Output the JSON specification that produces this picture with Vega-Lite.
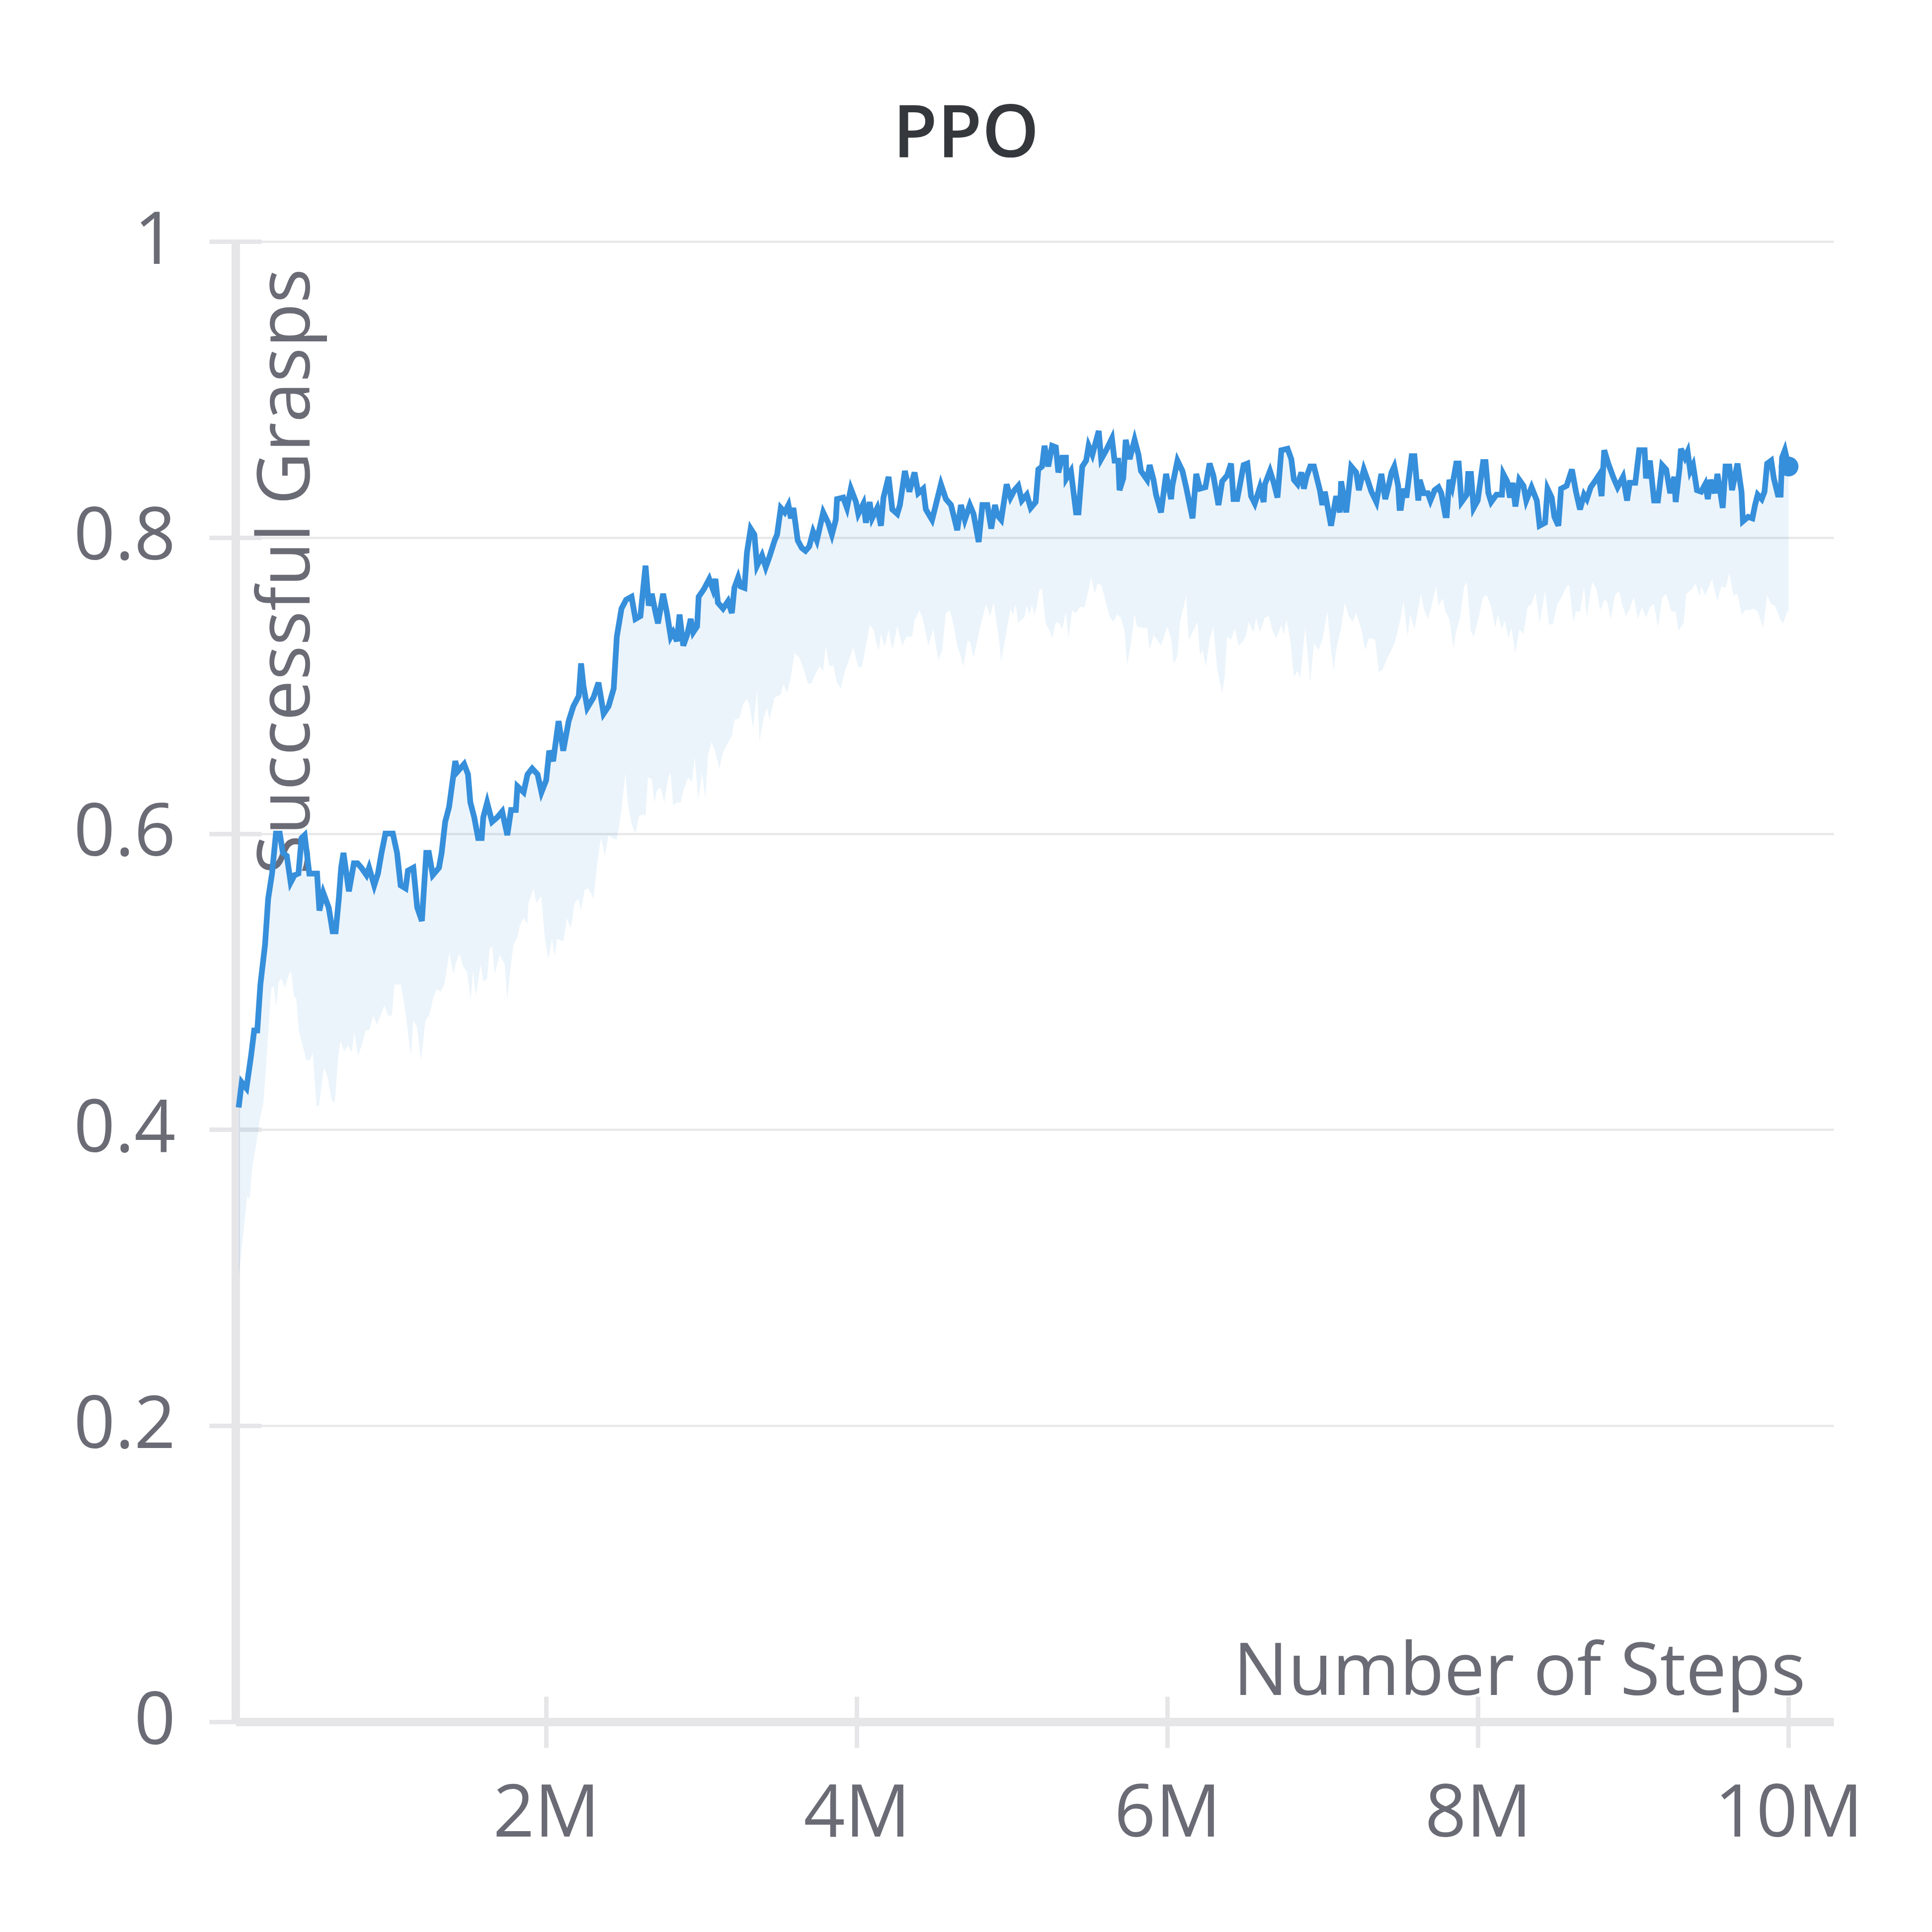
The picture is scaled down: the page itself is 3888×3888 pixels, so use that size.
{
  "$schema": "https://vega.github.io/schema/vega-lite/v6.json",
  "autosize": "none",
  "width": 3216,
  "height": 2979,
  "padding": {"left": 474, "top": 486, "right": 198, "bottom": 423},
  "background": "white",
  "config": {"view": {"stroke": null}, "font": "Open Sans"},
  "title": {
    "text": "PPO",
    "anchor": "middle",
    "frame": "group",
    "dx": -138,
    "offset": -49,
    "baseline": "alphabetic",
    "font": "Open Sans",
    "fontSize": 146,
    "fontWeight": 600,
    "color": "#34373b"
  },
  "data": {"values": [
    {"steps":0.02,"success":0.415,"series":"mean"},{"steps":0.04,"success":0.432,"series":"mean"},{"steps":0.07,"success":0.428,"series":"mean"},{"steps":0.1,"success":0.45,"series":"mean"},{"steps":0.12,"success":0.467,"series":"mean"},{"steps":0.14,"success":0.467,"series":"mean"},{"steps":0.16,"success":0.498,"series":"mean"},{"steps":0.19,"success":0.525,"series":"mean"},{"steps":0.21,"success":0.556,"series":"mean"},{"steps":0.235,"success":0.573,"series":"mean"},
    {"steps":0.26,"success":0.6,"series":"mean"},{"steps":0.285,"success":0.6,"series":"mean"},{"steps":0.305,"success":0.587,"series":"mean"},{"steps":0.33,"success":0.585,"series":"mean"},{"steps":0.355,"success":0.567,"series":"mean"},{"steps":0.38,"success":0.572,"series":"mean"},{"steps":0.405,"success":0.573,"series":"mean"},{"steps":0.425,"success":0.597,"series":"mean"},{"steps":0.445,"success":0.599,"series":"mean"},{"steps":0.475,"success":0.573,"series":"mean"},
    {"steps":0.525,"success":0.573,"series":"mean"},{"steps":0.54,"success":0.548,"series":"mean"},{"steps":0.565,"success":0.56,"series":"mean"},{"steps":0.6,"success":0.55,"series":"mean"},{"steps":0.625,"success":0.534,"series":"mean"},{"steps":0.645,"success":0.534,"series":"mean"},{"steps":0.665,"success":0.556,"series":"mean"},{"steps":0.68,"success":0.577,"series":"mean"},{"steps":0.695,"success":0.587,"series":"mean"},{"steps":0.73,"success":0.561,"series":"mean"},
    {"steps":0.762,"success":0.58,"series":"mean"},{"steps":0.785,"success":0.58,"series":"mean"},{"steps":0.81,"success":0.577,"series":"mean"},{"steps":0.843,"success":0.572,"series":"mean"},{"steps":0.86,"success":0.577,"series":"mean"},{"steps":0.893,"success":0.565,"series":"mean"},{"steps":0.917,"success":0.573,"series":"mean"},{"steps":0.94,"success":0.587,"series":"mean"},{"steps":0.965,"success":0.6,"series":"mean"},{"steps":1.013,"success":0.6,"series":"mean"},
    {"steps":1.04,"success":0.587,"series":"mean"},{"steps":1.063,"success":0.565,"series":"mean"},{"steps":1.095,"success":0.563,"series":"mean"},{"steps":1.11,"success":0.575,"series":"mean"},{"steps":1.145,"success":0.577,"series":"mean"},{"steps":1.17,"success":0.55,"series":"mean"},{"steps":1.2,"success":0.541,"series":"mean"},{"steps":1.228,"success":0.587,"series":"mean"},{"steps":1.245,"success":0.587,"series":"mean"},{"steps":1.27,"success":0.572,"series":"mean"},
    {"steps":1.31,"success":0.577,"series":"mean"},{"steps":1.327,"success":0.587,"series":"mean"},{"steps":1.35,"success":0.608,"series":"mean"},{"steps":1.375,"success":0.618,"series":"mean"},{"steps":1.415,"success":0.649,"series":"mean"},{"steps":1.43,"success":0.642,"series":"mean"},{"steps":1.472,"success":0.647,"series":"mean"},{"steps":1.497,"success":0.64,"series":"mean"},{"steps":1.512,"success":0.621,"series":"mean"},{"steps":1.537,"success":0.611,"series":"mean"},
    {"steps":1.562,"success":0.597,"series":"mean"},{"steps":1.585,"success":0.597,"series":"mean"},{"steps":1.595,"success":0.611,"series":"mean"},{"steps":1.62,"success":0.621,"series":"mean"},{"steps":1.652,"success":0.608,"series":"mean"},{"steps":1.685,"success":0.611,"series":"mean"},{"steps":1.717,"success":0.615,"series":"mean"},{"steps":1.75,"success":0.599,"series":"mean"},{"steps":1.774,"success":0.616,"series":"mean"},{"steps":1.805,"success":0.616,"series":"mean"},
    {"steps":1.815,"success":0.632,"series":"mean"},{"steps":1.855,"success":0.628,"series":"mean"},{"steps":1.88,"success":0.64,"series":"mean"},{"steps":1.91,"success":0.644,"series":"mean"},{"steps":1.945,"success":0.64,"series":"mean"},{"steps":1.97,"success":0.628,"series":"mean"},{"steps":2.0,"success":0.636,"series":"mean"},{"steps":2.02,"success":0.656,"series":"mean"},{"steps":2.045,"success":0.649,"series":"mean"},{"steps":2.08,"success":0.676,"series":"mean"},
    {"steps":2.11,"success":0.656,"series":"mean"},{"steps":2.145,"success":0.676,"series":"mean"},{"steps":2.175,"success":0.686,"series":"mean"},{"steps":2.21,"success":0.693,"series":"mean"},{"steps":2.225,"success":0.715,"series":"mean"},{"steps":2.24,"success":0.7,"series":"mean"},{"steps":2.265,"success":0.685,"series":"mean"},{"steps":2.305,"success":0.692,"series":"mean"},{"steps":2.337,"success":0.702,"series":"mean"},{"steps":2.37,"success":0.681,"series":"mean"},
    {"steps":2.402,"success":0.686,"series":"mean"},{"steps":2.435,"success":0.698,"series":"mean"},{"steps":2.455,"success":0.733,"series":"mean"},{"steps":2.485,"success":0.752,"series":"mean"},{"steps":2.515,"success":0.758,"series":"mean"},{"steps":2.55,"success":0.76,"series":"mean"},{"steps":2.575,"success":0.745,"series":"mean"},{"steps":2.607,"success":0.747,"series":"mean"},{"steps":2.64,"success":0.781,"series":"mean"},{"steps":2.661,"success":0.754,"series":"mean"},
    {"steps":2.68,"success":0.762,"series":"mean"},{"steps":2.705,"success":0.749,"series":"mean"},{"steps":2.72,"success":0.742,"series":"mean"},{"steps":2.753,"success":0.762,"series":"mean"},{"steps":2.778,"success":0.749,"series":"mean"},{"steps":2.802,"success":0.733,"series":"mean"},{"steps":2.818,"success":0.736,"series":"mean"},{"steps":2.842,"success":0.73,"series":"mean"},{"steps":2.859,"success":0.748,"series":"mean"},{"steps":2.883,"success":0.727,"series":"mean"},
    {"steps":2.907,"success":0.734,"series":"mean"},{"steps":2.931,"success":0.745,"series":"mean"},{"steps":2.947,"success":0.736,"series":"mean"},{"steps":2.972,"success":0.74,"series":"mean"},{"steps":2.982,"success":0.76,"series":"mean"},{"steps":3.015,"success":0.765,"series":"mean"},{"steps":3.05,"success":0.772,"series":"mean"},{"steps":3.074,"success":0.765,"series":"mean"},{"steps":3.09,"success":0.772,"series":"mean"},{"steps":3.106,"success":0.756,"series":"mean"},
    {"steps":3.139,"success":0.752,"series":"mean"},{"steps":3.171,"success":0.757,"series":"mean"},{"steps":3.196,"success":0.749,"series":"mean"},{"steps":3.212,"success":0.766,"series":"mean"},{"steps":3.236,"success":0.773,"series":"mean"},{"steps":3.252,"success":0.767,"series":"mean"},{"steps":3.277,"success":0.766,"series":"mean"},{"steps":3.293,"success":0.79,"series":"mean"},{"steps":3.317,"success":0.806,"series":"mean"},{"steps":3.341,"success":0.802,"series":"mean"},
    {"steps":3.358,"success":0.781,"series":"mean"},{"steps":3.39,"success":0.788,"series":"mean"},{"steps":3.414,"success":0.78,"series":"mean"},{"steps":3.438,"success":0.787,"series":"mean"},{"steps":3.471,"success":0.798,"series":"mean"},{"steps":3.487,"success":0.802,"series":"mean"},{"steps":3.511,"success":0.82,"series":"mean"},{"steps":3.536,"success":0.817,"series":"mean"},{"steps":3.56,"success":0.822,"series":"mean"},{"steps":3.576,"success":0.813,"series":"mean"},
    {"steps":3.592,"success":0.82,"series":"mean"},{"steps":3.62,"success":0.798,"series":"mean"},{"steps":3.646,"success":0.793,"series":"mean"},{"steps":3.67,"success":0.791,"series":"mean"},{"steps":3.694,"success":0.794,"series":"mean"},{"steps":3.719,"success":0.804,"series":"mean"},{"steps":3.743,"success":0.798,"series":"mean"},{"steps":3.784,"success":0.817,"series":"mean"},{"steps":3.816,"success":0.81,"series":"mean"},{"steps":3.84,"success":0.802,"series":"mean"},
    {"steps":3.865,"success":0.812,"series":"mean"},{"steps":3.873,"success":0.826,"series":"mean"},{"steps":3.913,"success":0.827,"series":"mean"},{"steps":3.937,"success":0.82,"series":"mean"},{"steps":3.962,"success":0.833,"series":"mean"},{"steps":3.995,"success":0.824,"series":"mean"},{"steps":4.01,"success":0.816,"series":"mean"},{"steps":4.043,"success":0.823,"series":"mean"},{"steps":4.059,"success":0.81,"series":"mean"},{"steps":4.083,"success":0.824,"series":"mean"},
    {"steps":4.099,"success":0.813,"series":"mean"},{"steps":4.132,"success":0.82,"series":"mean"},{"steps":4.156,"success":0.808,"series":"mean"},{"steps":4.172,"success":0.827,"series":"mean"},{"steps":4.205,"success":0.841,"series":"mean"},{"steps":4.229,"success":0.819,"series":"mean"},{"steps":4.261,"success":0.816,"series":"mean"},{"steps":4.278,"success":0.822,"series":"mean"},{"steps":4.31,"success":0.845,"series":"mean"},{"steps":4.339,"success":0.831,"series":"mean"},
    {"steps":4.372,"success":0.844,"series":"mean"},{"steps":4.396,"success":0.83,"series":"mean"},{"steps":4.428,"success":0.833,"series":"mean"},{"steps":4.445,"success":0.819,"series":"mean"},{"steps":4.485,"success":0.812,"series":"mean"},{"steps":4.509,"success":0.822,"series":"mean"},{"steps":4.542,"success":0.836,"series":"mean"},{"steps":4.574,"success":0.826,"series":"mean"},{"steps":4.607,"success":0.822,"series":"mean"},{"steps":4.647,"success":0.805,"series":"mean"},
    {"steps":4.671,"success":0.822,"series":"mean"},{"steps":4.696,"success":0.812,"series":"mean"},{"steps":4.728,"success":0.822,"series":"mean"},{"steps":4.752,"success":0.816,"series":"mean"},{"steps":4.785,"success":0.797,"series":"mean"},{"steps":4.809,"success":0.822,"series":"mean"},{"steps":4.841,"success":0.822,"series":"mean"},{"steps":4.866,"success":0.806,"series":"mean"},{"steps":4.89,"success":0.822,"series":"mean"},{"steps":4.906,"success":0.815,"series":"mean"},
    {"steps":4.93,"success":0.812,"series":"mean"},{"steps":4.965,"success":0.836,"series":"mean"},{"steps":4.99,"success":0.827,"series":"mean"},{"steps":5.015,"success":0.832,"series":"mean"},{"steps":5.04,"success":0.835,"series":"mean"},{"steps":5.063,"success":0.825,"series":"mean"},{"steps":5.095,"success":0.829,"series":"mean"},{"steps":5.12,"success":0.82,"series":"mean"},{"steps":5.152,"success":0.824,"series":"mean"},{"steps":5.169,"success":0.846,"series":"mean"},
    {"steps":5.193,"success":0.848,"series":"mean"},{"steps":5.209,"success":0.862,"series":"mean"},{"steps":5.233,"success":0.848,"series":"mean"},{"steps":5.258,"success":0.862,"series":"mean"},{"steps":5.282,"success":0.861,"series":"mean"},{"steps":5.298,"success":0.844,"series":"mean"},{"steps":5.323,"success":0.854,"series":"mean"},{"steps":5.347,"success":0.854,"series":"mean"},{"steps":5.35,"success":0.84,"series":"mean"},{"steps":5.379,"success":0.845,"series":"mean"},
    {"steps":5.412,"success":0.817,"series":"mean"},{"steps":5.428,"success":0.817,"series":"mean"},{"steps":5.452,"success":0.848,"series":"mean"},{"steps":5.477,"success":0.852,"series":"mean"},{"steps":5.493,"success":0.862,"series":"mean"},{"steps":5.517,"success":0.856,"series":"mean"},{"steps":5.558,"success":0.872,"series":"mean"},{"steps":5.574,"success":0.853,"series":"mean"},{"steps":5.606,"success":0.859,"series":"mean"},{"steps":5.643,"success":0.867,"series":"mean"},
    {"steps":5.66,"success":0.852,"series":"mean"},{"steps":5.684,"success":0.852,"series":"mean"},{"steps":5.692,"success":0.832,"series":"mean"},{"steps":5.716,"success":0.84,"series":"mean"},{"steps":5.732,"success":0.866,"series":"mean"},{"steps":5.757,"success":0.853,"series":"mean"},{"steps":5.789,"success":0.866,"series":"mean"},{"steps":5.814,"success":0.856,"series":"mean"},{"steps":5.83,"success":0.845,"series":"mean"},{"steps":5.87,"success":0.839,"series":"mean"},
    {"steps":5.886,"success":0.849,"series":"mean"},{"steps":5.911,"success":0.839,"series":"mean"},{"steps":5.927,"success":0.829,"series":"mean"},{"steps":5.959,"success":0.817,"series":"mean"},{"steps":5.992,"success":0.843,"series":"mean"},{"steps":6.024,"success":0.826,"series":"mean"},{"steps":6.032,"success":0.835,"series":"mean"},{"steps":6.065,"success":0.852,"series":"mean"},{"steps":6.097,"success":0.845,"series":"mean"},{"steps":6.121,"success":0.834,"series":"mean"},
    {"steps":6.162,"success":0.813,"series":"mean"},{"steps":6.186,"success":0.843,"series":"mean"},{"steps":6.21,"success":0.833,"series":"mean"},{"steps":6.245,"success":0.834,"series":"mean"},{"steps":6.272,"success":0.85,"series":"mean"},{"steps":6.296,"success":0.842,"series":"mean"},{"steps":6.329,"success":0.822,"series":"mean"},{"steps":6.353,"success":0.838,"series":"mean"},{"steps":6.385,"success":0.842,"series":"mean"},{"steps":6.41,"success":0.85,"series":"mean"},
    {"steps":6.426,"success":0.826,"series":"mean"},{"steps":6.45,"success":0.826,"series":"mean"},{"steps":6.491,"success":0.849,"series":"mean"},{"steps":6.515,"success":0.85,"series":"mean"},{"steps":6.539,"success":0.828,"series":"mean"},{"steps":6.563,"success":0.823,"series":"mean"},{"steps":6.596,"success":0.834,"series":"mean"},{"steps":6.62,"success":0.824,"series":"mean"},{"steps":6.628,"success":0.836,"series":"mean"},{"steps":6.661,"success":0.845,"series":"mean"},
    {"steps":6.685,"success":0.837,"series":"mean"},{"steps":6.709,"success":0.827,"series":"mean"},{"steps":6.734,"success":0.859,"series":"mean"},{"steps":6.774,"success":0.86,"series":"mean"},{"steps":6.798,"success":0.853,"series":"mean"},{"steps":6.815,"success":0.839,"series":"mean"},{"steps":6.839,"success":0.836,"series":"mean"},{"steps":6.863,"success":0.844,"series":"mean"},{"steps":6.879,"success":0.833,"series":"mean"},{"steps":6.896,"success":0.841,"series":"mean"},
    {"steps":6.92,"success":0.848,"series":"mean"},{"steps":6.944,"success":0.848,"series":"mean"},{"steps":6.982,"success":0.832,"series":"mean"},{"steps":6.998,"success":0.822,"series":"mean"},{"steps":7.014,"success":0.831,"series":"mean"},{"steps":7.054,"success":0.808,"series":"mean"},{"steps":7.087,"success":0.828,"series":"mean"},{"steps":7.111,"success":0.817,"series":"mean"},{"steps":7.119,"success":0.838,"series":"mean"},{"steps":7.152,"success":0.817,"series":"mean"},
    {"steps":7.184,"success":0.848,"series":"mean"},{"steps":7.216,"success":0.844,"series":"mean"},{"steps":7.233,"success":0.832,"series":"mean"},{"steps":7.265,"success":0.846,"series":"mean"},{"steps":7.289,"success":0.839,"series":"mean"},{"steps":7.314,"success":0.831,"series":"mean"},{"steps":7.346,"success":0.824,"series":"mean"},{"steps":7.378,"success":0.843,"series":"mean"},{"steps":7.403,"success":0.826,"series":"mean"},{"steps":7.427,"success":0.836,"series":"mean"},
    {"steps":7.443,"success":0.844,"series":"mean"},{"steps":7.461,"success":0.848,"series":"mean"},{"steps":7.486,"success":0.835,"series":"mean"},{"steps":7.495,"success":0.82,"series":"mean"},{"steps":7.504,"success":0.82,"series":"mean"},{"steps":7.521,"success":0.833,"series":"mean"},{"steps":7.539,"success":0.827,"series":"mean"},{"steps":7.573,"success":0.855,"series":"mean"},{"steps":7.591,"success":0.855,"series":"mean"},{"steps":7.616,"success":0.825,"series":"mean"},
    {"steps":7.625,"success":0.839,"series":"mean"},{"steps":7.651,"success":0.83,"series":"mean"},{"steps":7.677,"success":0.83,"series":"mean"},{"steps":7.694,"success":0.825,"series":"mean"},{"steps":7.721,"success":0.832,"series":"mean"},{"steps":7.746,"success":0.834,"series":"mean"},{"steps":7.764,"success":0.83,"series":"mean"},{"steps":7.79,"success":0.815,"series":"mean"},{"steps":7.799,"success":0.815,"series":"mean"},{"steps":7.816,"success":0.839,"series":"mean"},
    {"steps":7.833,"success":0.834,"series":"mean"},{"steps":7.86,"success":0.85,"series":"mean"},{"steps":7.876,"success":0.85,"series":"mean"},{"steps":7.894,"success":0.824,"series":"mean"},{"steps":7.928,"success":0.829,"series":"mean"},{"steps":7.937,"success":0.843,"series":"mean"},{"steps":7.955,"success":0.843,"series":"mean"},{"steps":7.972,"success":0.82,"series":"mean"},{"steps":7.998,"success":0.825,"series":"mean"},{"steps":8.033,"success":0.851,"series":"mean"},
    {"steps":8.049,"success":0.851,"series":"mean"},{"steps":8.067,"success":0.83,"series":"mean"},{"steps":8.085,"success":0.824,"series":"mean"},{"steps":8.119,"success":0.829,"series":"mean"},{"steps":8.154,"success":0.829,"series":"mean"},{"steps":8.163,"success":0.843,"series":"mean"},{"steps":8.188,"success":0.838,"series":"mean"},{"steps":8.206,"success":0.827,"series":"mean"},{"steps":8.223,"success":0.837,"series":"mean"},{"steps":8.241,"success":0.821,"series":"mean"},
    {"steps":8.266,"success":0.839,"series":"mean"},{"steps":8.293,"success":0.835,"series":"mean"},{"steps":8.311,"success":0.825,"series":"mean"},{"steps":8.345,"success":0.834,"series":"mean"},{"steps":8.379,"success":0.825,"series":"mean"},{"steps":8.397,"success":0.808,"series":"mean"},{"steps":8.432,"success":0.81,"series":"mean"},{"steps":8.448,"success":0.833,"series":"mean"},{"steps":8.475,"success":0.827,"series":"mean"},{"steps":8.492,"success":0.814,"series":"mean"},
    {"steps":8.518,"success":0.808,"series":"mean"},{"steps":8.535,"success":0.833,"series":"mean"},{"steps":8.571,"success":0.835,"series":"mean"},{"steps":8.605,"success":0.846,"series":"mean"},{"steps":8.631,"success":0.831,"series":"mean"},{"steps":8.657,"success":0.819,"series":"mean"},{"steps":8.683,"success":0.829,"series":"mean"},{"steps":8.701,"success":0.826,"series":"mean"},{"steps":8.726,"success":0.834,"series":"mean"},{"steps":8.753,"success":0.838,"series":"mean"},
    {"steps":8.778,"success":0.842,"series":"mean"},{"steps":8.796,"success":0.828,"series":"mean"},{"steps":8.813,"success":0.859,"series":"mean"},{"steps":8.839,"success":0.85,"series":"mean"},{"steps":8.874,"success":0.84,"series":"mean"},{"steps":8.899,"success":0.834,"series":"mean"},{"steps":8.934,"success":0.841,"series":"mean"},{"steps":8.96,"success":0.825,"series":"mean"},{"steps":8.977,"success":0.837,"series":"mean"},{"steps":9.013,"success":0.837,"series":"mean"},
    {"steps":9.038,"success":0.859,"series":"mean"},{"steps":9.073,"success":0.859,"series":"mean"},{"steps":9.082,"success":0.84,"series":"mean"},{"steps":9.107,"success":0.852,"series":"mean"},{"steps":9.134,"success":0.825,"series":"mean"},{"steps":9.159,"success":0.825,"series":"mean"},{"steps":9.186,"success":0.849,"series":"mean"},{"steps":9.212,"success":0.846,"series":"mean"},{"steps":9.238,"success":0.83,"series":"mean"},{"steps":9.264,"success":0.841,"series":"mean"},
    {"steps":9.273,"success":0.824,"series":"mean"},{"steps":9.298,"success":0.847,"series":"mean"},{"steps":9.307,"success":0.86,"series":"mean"},{"steps":9.333,"success":0.854,"series":"mean"},{"steps":9.35,"success":0.858,"series":"mean"},{"steps":9.367,"success":0.845,"series":"mean"},{"steps":9.385,"success":0.849,"series":"mean"},{"steps":9.41,"success":0.832,"series":"mean"},{"steps":9.437,"success":0.831,"series":"mean"},{"steps":9.463,"success":0.836,"series":"mean"},
    {"steps":9.48,"success":0.826,"series":"mean"},{"steps":9.497,"success":0.839,"series":"mean"},{"steps":9.524,"success":0.83,"series":"mean"},{"steps":9.542,"success":0.843,"series":"mean"},{"steps":9.576,"success":0.82,"series":"mean"},{"steps":9.594,"success":0.848,"series":"mean"},{"steps":9.619,"success":0.848,"series":"mean"},{"steps":9.636,"success":0.832,"series":"mean"},{"steps":9.671,"success":0.85,"series":"mean"},{"steps":9.697,"success":0.831,"series":"mean"},
    {"steps":9.706,"success":0.811,"series":"mean"},{"steps":9.74,"success":0.814,"series":"mean"},{"steps":9.767,"success":0.813,"series":"mean"},{"steps":9.784,"success":0.822,"series":"mean"},{"steps":9.801,"success":0.829,"series":"mean"},{"steps":9.827,"success":0.826,"series":"mean"},{"steps":9.845,"success":0.831,"series":"mean"},{"steps":9.862,"success":0.85,"series":"mean"},{"steps":9.888,"success":0.852,"series":"mean"},{"steps":9.905,"success":0.84,"series":"mean"},
    {"steps":9.931,"success":0.829,"series":"mean"},{"steps":9.949,"success":0.829,"series":"mean"},{"steps":9.958,"success":0.854,"series":"mean"},{"steps":9.976,"success":0.859,"series":"mean"},{"steps":10.0,"success":0.848,"series":"mean"},
    {"steps":10.0,"success":0.75,"series":"lower"},{"steps":9.991,"success":0.75,"series":"lower"},{"steps":9.965,"success":0.742,"series":"lower"},{"steps":9.944,"success":0.745,"series":"lower"},{"steps":9.913,"success":0.754,"series":"lower"},{"steps":9.888,"success":0.755,"series":"lower"},{"steps":9.862,"success":0.761,"series":"lower"},{"steps":9.836,"success":0.739,"series":"lower"},{"steps":9.801,"success":0.75,"series":"lower"},{"steps":9.776,"success":0.752,"series":"lower"},
    {"steps":9.749,"success":0.751,"series":"lower"},{"steps":9.723,"success":0.751,"series":"lower"},{"steps":9.697,"success":0.748,"series":"lower"},{"steps":9.671,"success":0.762,"series":"lower"},{"steps":9.645,"success":0.761,"series":"lower"},{"steps":9.619,"success":0.776,"series":"lower"},{"steps":9.594,"success":0.766,"series":"lower"},{"steps":9.567,"success":0.767,"series":"lower"},{"steps":9.541,"success":0.757,"series":"lower"},{"steps":9.507,"success":0.772,"series":"lower"},
    {"steps":9.48,"success":0.765,"series":"lower"},{"steps":9.463,"success":0.761,"series":"lower"},{"steps":9.437,"success":0.767,"series":"lower"},{"steps":9.428,"success":0.76,"series":"lower"},{"steps":9.402,"success":0.769,"series":"lower"},{"steps":9.376,"success":0.765,"series":"lower"},{"steps":9.342,"success":0.762,"series":"lower"},{"steps":9.324,"success":0.742,"series":"lower"},{"steps":9.29,"success":0.737,"series":"lower"},{"steps":9.273,"success":0.75,"series":"lower"},
    {"steps":9.246,"success":0.75,"series":"lower"},{"steps":9.211,"success":0.762,"series":"lower"},{"steps":9.186,"success":0.759,"series":"lower"},{"steps":9.159,"success":0.739,"series":"lower"},{"steps":9.134,"success":0.755,"series":"lower"},{"steps":9.107,"success":0.753,"series":"lower"},{"steps":9.082,"success":0.746,"series":"lower"},{"steps":9.055,"success":0.753,"series":"lower"},{"steps":9.029,"success":0.745,"series":"lower"},{"steps":9.004,"success":0.76,"series":"lower"},
    {"steps":8.978,"success":0.752,"series":"lower"},{"steps":8.952,"success":0.747,"series":"lower"},{"steps":8.926,"success":0.756,"series":"lower"},{"steps":8.908,"success":0.764,"series":"lower"},{"steps":8.882,"success":0.761,"series":"lower"},{"steps":8.856,"success":0.745,"series":"lower"},{"steps":8.831,"success":0.757,"series":"lower"},{"steps":8.813,"success":0.758,"series":"lower"},{"steps":8.787,"success":0.751,"series":"lower"},{"steps":8.761,"success":0.766,"series":"lower"},
    {"steps":8.735,"success":0.77,"series":"lower"},{"steps":8.7,"success":0.746,"series":"lower"},{"steps":8.683,"success":0.767,"series":"lower"},{"steps":8.657,"success":0.75,"series":"lower"},{"steps":8.631,"success":0.75,"series":"lower"},{"steps":8.614,"success":0.743,"series":"lower"},{"steps":8.587,"success":0.768,"series":"lower"},{"steps":8.571,"success":0.767,"series":"lower"},{"steps":8.535,"success":0.759,"series":"lower"},{"steps":8.51,"success":0.755,"series":"lower"},
    {"steps":8.484,"success":0.742,"series":"lower"},{"steps":8.457,"success":0.741,"series":"lower"},{"steps":8.432,"success":0.764,"series":"lower"},{"steps":8.397,"success":0.742,"series":"lower"},{"steps":8.371,"success":0.763,"series":"lower"},{"steps":8.345,"success":0.755,"series":"lower"},{"steps":8.319,"success":0.753,"series":"lower"},{"steps":8.293,"success":0.735,"series":"lower"},{"steps":8.266,"success":0.738,"series":"lower"},{"steps":8.241,"success":0.722,"series":"lower"},
    {"steps":8.215,"success":0.739,"series":"lower"},{"steps":8.197,"success":0.732,"series":"lower"},{"steps":8.172,"success":0.744,"series":"lower"},{"steps":8.154,"success":0.738,"series":"lower"},{"steps":8.128,"success":0.748,"series":"lower"},{"steps":8.111,"success":0.739,"series":"lower"},{"steps":8.085,"success":0.753,"series":"lower"},{"steps":8.058,"success":0.761,"series":"lower"},{"steps":8.033,"success":0.76,"series":"lower"},{"steps":7.998,"success":0.743,"series":"lower"},
    {"steps":7.972,"success":0.733,"series":"lower"},{"steps":7.954,"success":0.737,"series":"lower"},{"steps":7.928,"success":0.77,"series":"lower"},{"steps":7.911,"success":0.767,"series":"lower"},{"steps":7.885,"success":0.746,"series":"lower"},{"steps":7.86,"success":0.737,"series":"lower"},{"steps":7.842,"success":0.725,"series":"lower"},{"steps":7.816,"success":0.745,"series":"lower"},{"steps":7.79,"success":0.75,"series":"lower"},{"steps":7.773,"success":0.759,"series":"lower"},
    {"steps":7.746,"success":0.754,"series":"lower"},{"steps":7.73,"success":0.767,"series":"lower"},{"steps":7.694,"success":0.751,"series":"lower"},{"steps":7.677,"success":0.745,"series":"lower"},{"steps":7.651,"success":0.752,"series":"lower"},{"steps":7.634,"success":0.762,"series":"lower"},{"steps":7.608,"success":0.748,"series":"lower"},{"steps":7.591,"success":0.738,"series":"lower"},{"steps":7.564,"success":0.748,"series":"lower"},{"steps":7.547,"success":0.733,"series":"lower"},
    {"steps":7.521,"success":0.757,"series":"lower"},{"steps":7.495,"success":0.742,"series":"lower"},{"steps":7.467,"success":0.73,"series":"lower"},{"steps":7.443,"success":0.724,"series":"lower"},{"steps":7.419,"success":0.719,"series":"lower"},{"steps":7.386,"success":0.711,"series":"lower"},{"steps":7.362,"success":0.709,"series":"lower"},{"steps":7.338,"success":0.731,"series":"lower"},{"steps":7.297,"success":0.732,"series":"lower"},{"steps":7.273,"success":0.724,"series":"lower"},
    {"steps":7.249,"success":0.738,"series":"lower"},{"steps":7.216,"success":0.749,"series":"lower"},{"steps":7.192,"success":0.743,"series":"lower"},{"steps":7.168,"success":0.747,"series":"lower"},{"steps":7.143,"success":0.756,"series":"lower"},{"steps":7.119,"success":0.739,"series":"lower"},{"steps":7.087,"success":0.724,"series":"lower"},{"steps":7.071,"success":0.71,"series":"lower"},{"steps":7.054,"success":0.724,"series":"lower"},{"steps":7.03,"success":0.75,"series":"lower"},
    {"steps":6.998,"success":0.731,"series":"lower"},{"steps":6.973,"success":0.724,"series":"lower"},{"steps":6.944,"success":0.729,"series":"lower"},{"steps":6.92,"success":0.702,"series":"lower"},{"steps":6.888,"success":0.739,"series":"lower"},{"steps":6.855,"success":0.705,"series":"lower"},{"steps":6.839,"success":0.71,"series":"lower"},{"steps":6.815,"success":0.706,"series":"lower"},{"steps":6.791,"success":0.731,"series":"lower"},{"steps":6.766,"success":0.745,"series":"lower"},
    {"steps":6.75,"success":0.734,"series":"lower"},{"steps":6.734,"success":0.741,"series":"lower"},{"steps":6.701,"success":0.732,"series":"lower"},{"steps":6.677,"success":0.737,"series":"lower"},{"steps":6.653,"success":0.747,"series":"lower"},{"steps":6.628,"success":0.746,"series":"lower"},{"steps":6.596,"success":0.736,"series":"lower"},{"steps":6.572,"success":0.746,"series":"lower"},{"steps":6.555,"success":0.736,"series":"lower"},{"steps":6.523,"success":0.743,"series":"lower"},
    {"steps":6.507,"success":0.734,"series":"lower"},{"steps":6.482,"success":0.729,"series":"lower"},{"steps":6.458,"success":0.727,"series":"lower"},{"steps":6.434,"success":0.739,"series":"lower"},{"steps":6.41,"success":0.731,"series":"lower"},{"steps":6.385,"success":0.733,"series":"lower"},{"steps":6.369,"success":0.706,"series":"lower"},{"steps":6.353,"success":0.695,"series":"lower"},{"steps":6.321,"success":0.711,"series":"lower"},{"steps":6.296,"success":0.74,"series":"lower"},
    {"steps":6.272,"success":0.731,"series":"lower"},{"steps":6.248,"success":0.713,"series":"lower"},{"steps":6.226,"success":0.724,"series":"lower"},{"steps":6.21,"success":0.72,"series":"lower"},{"steps":6.194,"success":0.743,"series":"lower"},{"steps":6.162,"success":0.736,"series":"lower"},{"steps":6.137,"success":0.731,"series":"lower"},{"steps":6.121,"success":0.761,"series":"lower"},{"steps":6.105,"success":0.753,"series":"lower"},{"steps":6.081,"success":0.743,"series":"lower"},
    {"steps":6.065,"success":0.72,"series":"lower"},{"steps":6.04,"success":0.715,"series":"lower"},{"steps":6.024,"success":0.732,"series":"lower"},{"steps":6.0,"success":0.74,"series":"lower"},{"steps":5.959,"success":0.727,"series":"lower"},{"steps":5.935,"success":0.731,"series":"lower"},{"steps":5.911,"success":0.734,"series":"lower"},{"steps":5.886,"success":0.724,"series":"lower"},{"steps":5.87,"success":0.739,"series":"lower"},{"steps":5.838,"success":0.739,"series":"lower"},
    {"steps":5.805,"success":0.74,"series":"lower"},{"steps":5.789,"success":0.748,"series":"lower"},{"steps":5.765,"success":0.728,"series":"lower"},{"steps":5.741,"success":0.714,"series":"lower"},{"steps":5.724,"success":0.737,"series":"lower"},{"steps":5.7,"success":0.746,"series":"lower"},{"steps":5.676,"success":0.748,"series":"lower"},{"steps":5.652,"success":0.743,"series":"lower"},{"steps":5.627,"success":0.747,"series":"lower"},{"steps":5.598,"success":0.759,"series":"lower"},
    {"steps":5.574,"success":0.768,"series":"lower"},{"steps":5.549,"success":0.769,"series":"lower"},{"steps":5.533,"success":0.762,"series":"lower"},{"steps":5.509,"success":0.773,"series":"lower"},{"steps":5.493,"success":0.765,"series":"lower"},{"steps":5.468,"success":0.753,"series":"lower"},{"steps":5.436,"success":0.753,"series":"lower"},{"steps":5.412,"success":0.749,"series":"lower"},{"steps":5.387,"success":0.751,"series":"lower"},{"steps":5.363,"success":0.732,"series":"lower"},
    {"steps":5.347,"success":0.75,"series":"lower"},{"steps":5.323,"success":0.738,"series":"lower"},{"steps":5.306,"success":0.742,"series":"lower"},{"steps":5.282,"success":0.743,"series":"lower"},{"steps":5.258,"success":0.732,"series":"lower"},{"steps":5.241,"success":0.737,"series":"lower"},{"steps":5.217,"success":0.742,"series":"lower"},{"steps":5.193,"success":0.765,"series":"lower"},{"steps":5.177,"success":0.765,"series":"lower"},{"steps":5.161,"success":0.755,"series":"lower"},
    {"steps":5.144,"success":0.747,"series":"lower"},{"steps":5.128,"success":0.755,"series":"lower"},{"steps":5.112,"success":0.748,"series":"lower"},{"steps":5.095,"success":0.754,"series":"lower"},{"steps":5.079,"success":0.746,"series":"lower"},{"steps":5.063,"success":0.745,"series":"lower"},{"steps":5.039,"success":0.742,"series":"lower"},{"steps":5.023,"success":0.755,"series":"lower"},{"steps":5.006,"success":0.748,"series":"lower"},{"steps":4.99,"success":0.752,"series":"lower"},
    {"steps":4.93,"success":0.716,"series":"lower"},{"steps":4.914,"success":0.733,"series":"lower"},{"steps":4.882,"success":0.756,"series":"lower"},{"steps":4.858,"success":0.747,"series":"lower"},{"steps":4.833,"success":0.755,"series":"lower"},{"steps":4.801,"success":0.742,"series":"lower"},{"steps":4.769,"success":0.727,"series":"lower"},{"steps":4.752,"success":0.719,"series":"lower"},{"steps":4.728,"success":0.73,"series":"lower"},{"steps":4.712,"success":0.73,"series":"lower"},
    {"steps":4.687,"success":0.713,"series":"lower"},{"steps":4.663,"success":0.722,"series":"lower"},{"steps":4.647,"success":0.727,"series":"lower"},{"steps":4.623,"success":0.741,"series":"lower"},{"steps":4.599,"success":0.751,"series":"lower"},{"steps":4.574,"success":0.749,"series":"lower"},{"steps":4.55,"success":0.724,"series":"lower"},{"steps":4.526,"success":0.717,"series":"lower"},{"steps":4.493,"success":0.738,"series":"lower"},{"steps":4.461,"success":0.727,"series":"lower"},
    {"steps":4.428,"success":0.744,"series":"lower"},{"steps":4.404,"success":0.751,"series":"lower"},{"steps":4.372,"success":0.744,"series":"lower"},{"steps":4.356,"success":0.733,"series":"lower"},{"steps":4.318,"success":0.733,"series":"lower"},{"steps":4.294,"success":0.727,"series":"lower"},{"steps":4.261,"success":0.74,"series":"lower"},{"steps":4.229,"success":0.724,"series":"lower"},{"steps":4.205,"success":0.738,"series":"lower"},{"steps":4.18,"success":0.726,"series":"lower"},
    {"steps":4.156,"success":0.735,"series":"lower"},{"steps":4.14,"success":0.723,"series":"lower"},{"steps":4.107,"success":0.738,"series":"lower"},{"steps":4.083,"success":0.741,"series":"lower"},{"steps":4.059,"success":0.727,"series":"lower"},{"steps":4.034,"success":0.713,"series":"lower"},{"steps":4.01,"success":0.712,"series":"lower"},{"steps":3.978,"success":0.726,"series":"lower"},{"steps":3.945,"success":0.716,"series":"lower"},{"steps":3.921,"success":0.709,"series":"lower"},
    {"steps":3.897,"success":0.698,"series":"lower"},{"steps":3.873,"success":0.702,"series":"lower"},{"steps":3.848,"success":0.714,"series":"lower"},{"steps":3.824,"success":0.713,"series":"lower"},{"steps":3.8,"success":0.727,"series":"lower"},{"steps":3.784,"success":0.71,"series":"lower"},{"steps":3.759,"success":0.713,"series":"lower"},{"steps":3.735,"success":0.708,"series":"lower"},{"steps":3.711,"success":0.702,"series":"lower"},{"steps":3.686,"success":0.701,"series":"lower"},
    {"steps":3.662,"success":0.71,"series":"lower"},{"steps":3.63,"success":0.719,"series":"lower"},{"steps":3.6,"success":0.722,"series":"lower"},{"steps":3.576,"success":0.706,"series":"lower"},{"steps":3.552,"success":0.695,"series":"lower"},{"steps":3.527,"success":0.701,"series":"lower"},{"steps":3.511,"success":0.694,"series":"lower"},{"steps":3.471,"success":0.692,"series":"lower"},{"steps":3.438,"success":0.677,"series":"lower"},{"steps":3.422,"success":0.685,"series":"lower"},
    {"steps":3.398,"success":0.677,"series":"lower"},{"steps":3.374,"success":0.662,"series":"lower"},{"steps":3.358,"success":0.697,"series":"lower"},{"steps":3.333,"success":0.671,"series":"lower"},{"steps":3.309,"success":0.687,"series":"lower"},{"steps":3.293,"success":0.691,"series":"lower"},{"steps":3.268,"success":0.687,"series":"lower"},{"steps":3.244,"success":0.678,"series":"lower"},{"steps":3.212,"success":0.677,"series":"lower"},{"steps":3.196,"success":0.666,"series":"lower"},
    {"steps":3.163,"success":0.66,"series":"lower"},{"steps":3.139,"success":0.655,"series":"lower"},{"steps":3.115,"success":0.644,"series":"lower"},{"steps":3.09,"success":0.655,"series":"lower"},{"steps":3.066,"success":0.662,"series":"lower"},{"steps":3.042,"success":0.653,"series":"lower"},{"steps":3.025,"success":0.624,"series":"lower"},{"steps":3.004,"success":0.641,"series":"lower"},{"steps":2.98,"success":0.623,"series":"lower"},{"steps":2.956,"success":0.652,"series":"lower"},
    {"steps":2.939,"success":0.635,"series":"lower"},{"steps":2.915,"success":0.638,"series":"lower"},{"steps":2.883,"success":0.629,"series":"lower"},{"steps":2.867,"success":0.621,"series":"lower"},{"steps":2.842,"success":0.621,"series":"lower"},{"steps":2.818,"success":0.619,"series":"lower"},{"steps":2.802,"success":0.641,"series":"lower"},{"steps":2.786,"success":0.638,"series":"lower"},{"steps":2.761,"success":0.621,"series":"lower"},{"steps":2.737,"success":0.631,"series":"lower"},
    {"steps":2.713,"success":0.629,"series":"lower"},{"steps":2.697,"success":0.621,"series":"lower"},{"steps":2.68,"success":0.637,"series":"lower"},{"steps":2.656,"success":0.638,"series":"lower"},{"steps":2.64,"success":0.612,"series":"lower"},{"steps":2.624,"success":0.613,"series":"lower"},{"steps":2.599,"success":0.612,"series":"lower"},{"steps":2.575,"success":0.6,"series":"lower"},{"steps":2.551,"success":0.606,"series":"lower"},{"steps":2.525,"success":0.621,"series":"lower"},
    {"steps":2.51,"success":0.641,"series":"lower"},{"steps":2.485,"success":0.616,"series":"lower"},{"steps":2.47,"success":0.605,"series":"lower"},{"steps":2.455,"success":0.596,"series":"lower"},{"steps":2.426,"success":0.597,"series":"lower"},{"steps":2.402,"success":0.599,"series":"lower"},{"steps":2.378,"success":0.585,"series":"lower"},{"steps":2.353,"success":0.597,"series":"lower"},{"steps":2.329,"success":0.58,"series":"lower"},{"steps":2.305,"success":0.556,"series":"lower"},
    {"steps":2.272,"success":0.563,"series":"lower"},{"steps":2.248,"success":0.562,"series":"lower"},{"steps":2.224,"success":0.548,"series":"lower"},{"steps":2.208,"success":0.556,"series":"lower"},{"steps":2.183,"success":0.553,"series":"lower"},{"steps":2.159,"success":0.536,"series":"lower"},{"steps":2.134,"success":0.543,"series":"lower"},{"steps":2.11,"success":0.527,"series":"lower"},{"steps":2.07,"success":0.529,"series":"lower"},{"steps":2.054,"success":0.517,"series":"lower"},
    {"steps":2.038,"success":0.529,"series":"lower"},{"steps":2.014,"success":0.515,"series":"lower"},{"steps":1.992,"success":0.529,"series":"lower"},{"steps":1.968,"success":0.558,"series":"lower"},{"steps":1.936,"success":0.553,"series":"lower"},{"steps":1.92,"success":0.563,"series":"lower"},{"steps":1.887,"success":0.553,"series":"lower"},{"steps":1.879,"success":0.539,"series":"lower"},{"steps":1.855,"success":0.543,"series":"lower"},{"steps":1.831,"success":0.538,"series":"lower"},
    {"steps":1.815,"success":0.53,"series":"lower"},{"steps":1.79,"success":0.525,"series":"lower"},{"steps":1.774,"success":0.512,"series":"lower"},{"steps":1.75,"success":0.488,"series":"lower"},{"steps":1.733,"success":0.512,"series":"lower"},{"steps":1.701,"success":0.518,"series":"lower"},{"steps":1.668,"success":0.505,"series":"lower"},{"steps":1.652,"success":0.524,"series":"lower"},{"steps":1.636,"success":0.522,"series":"lower"},{"steps":1.62,"success":0.502,"series":"lower"},
    {"steps":1.595,"success":0.5,"series":"lower"},{"steps":1.579,"success":0.512,"series":"lower"},{"steps":1.547,"success":0.49,"series":"lower"},{"steps":1.53,"success":0.507,"series":"lower"},{"steps":1.514,"success":0.488,"series":"lower"},{"steps":1.49,"success":0.507,"series":"lower"},{"steps":1.466,"success":0.51,"series":"lower"},{"steps":1.441,"success":0.519,"series":"lower"},{"steps":1.417,"success":0.512,"series":"lower"},{"steps":1.401,"success":0.505,"series":"lower"},
    {"steps":1.377,"success":0.52,"series":"lower"},{"steps":1.36,"success":0.508,"series":"lower"},{"steps":1.344,"success":0.498,"series":"lower"},{"steps":1.32,"success":0.493,"series":"lower"},{"steps":1.296,"success":0.495,"series":"lower"},{"steps":1.271,"success":0.488,"series":"lower"},{"steps":1.247,"success":0.477,"series":"lower"},{"steps":1.223,"success":0.474,"series":"lower"},{"steps":1.194,"success":0.447,"series":"lower"},{"steps":1.169,"success":0.469,"series":"lower"},
    {"steps":1.145,"success":0.474,"series":"lower"},{"steps":1.129,"success":0.45,"series":"lower"},{"steps":1.104,"success":0.471,"series":"lower"},{"steps":1.088,"success":0.484,"series":"lower"},{"steps":1.064,"success":0.498,"series":"lower"},{"steps":1.023,"success":0.498,"series":"lower"},{"steps":1.007,"success":0.477,"series":"lower"},{"steps":0.983,"success":0.477,"series":"lower"},{"steps":0.958,"success":0.484,"series":"lower"},{"steps":0.934,"success":0.477,"series":"lower"},
    {"steps":0.91,"success":0.471,"series":"lower"},{"steps":0.886,"success":0.477,"series":"lower"},{"steps":0.861,"success":0.467,"series":"lower"},{"steps":0.837,"success":0.467,"series":"lower"},{"steps":0.813,"success":0.457,"series":"lower"},{"steps":0.788,"success":0.45,"series":"lower"},{"steps":0.765,"success":0.466,"series":"lower"},{"steps":0.748,"success":0.452,"series":"lower"},{"steps":0.724,"success":0.457,"series":"lower"},{"steps":0.699,"success":0.453,"series":"lower"},
    {"steps":0.675,"success":0.46,"series":"lower"},{"steps":0.659,"success":0.447,"series":"lower"},{"steps":0.639,"success":0.418,"series":"lower"},{"steps":0.618,"success":0.42,"series":"lower"},{"steps":0.594,"success":0.435,"series":"lower"},{"steps":0.57,"success":0.442,"series":"lower"},{"steps":0.554,"success":0.43,"series":"lower"},{"steps":0.537,"success":0.416,"series":"lower"},{"steps":0.521,"success":0.416,"series":"lower"},{"steps":0.497,"success":0.452,"series":"lower"},
    {"steps":0.48,"success":0.447,"series":"lower"},{"steps":0.456,"success":0.447,"series":"lower"},{"steps":0.432,"success":0.457,"series":"lower"},{"steps":0.407,"success":0.467,"series":"lower"},{"steps":0.391,"success":0.489,"series":"lower"},{"steps":0.375,"success":0.49,"series":"lower"},{"steps":0.359,"success":0.507,"series":"lower"},{"steps":0.343,"success":0.505,"series":"lower"},{"steps":0.319,"success":0.496,"series":"lower"},{"steps":0.294,"success":0.502,"series":"lower"},
    {"steps":0.278,"success":0.5,"series":"lower"},{"steps":0.262,"success":0.483,"series":"lower"},{"steps":0.246,"success":0.497,"series":"lower"},{"steps":0.23,"success":0.495,"series":"lower"},{"steps":0.205,"success":0.457,"series":"lower"},{"steps":0.18,"success":0.418,"series":"lower"},{"steps":0.156,"success":0.407,"series":"lower"},{"steps":0.132,"success":0.389,"series":"lower"},{"steps":0.108,"success":0.375,"series":"lower"},{"steps":0.09,"success":0.353,"series":"lower"},
    {"steps":0.075,"success":0.355,"series":"lower"},{"steps":0.06,"success":0.34,"series":"lower"},{"steps":0.02,"success":0.3,"series":"lower"}
  ]},
  "layer": [
    {
      "mark": {"type": "line", "filled": true, "color": "#368fdb", "fillOpacity": 0.1, "strokeWidth": 0},
      "encoding": {
        "x": {
          "field": "steps", "type": "quantitative",
          "scale": {"domain": [0, 10.29], "nice": false, "zero": false},
          "axis": {
            "values": [2, 4, 6, 8, 10],
            "labelExpr": "datum.value + 'M'",
            "labelFont": "Open Sans", "labelFontSize": 146, "labelColor": "#6b6b76",
            "labelPadding": 63, "labelFlush": false, "labelOverlap": false, "labelLimit": 1000,
            "tickSize": 52, "tickWidth": 9, "tickColor": "#e6e6e8",
            "domainWidth": 17, "domainColor": "#e6e6e8",
            "grid": false,
            "title": "Number of Steps",
            "titleFont": "Open Sans", "titleFontSize": 146, "titleFontWeight": "normal", "titleColor": "#6b6b76", "titleLimit": 3000,
            "titleX": 3159, "titleY": -55, "titleAlign": "right", "titleBaseline": "alphabetic", "titleAngle": 0
          }
        },
        "y": {
          "field": "success", "type": "quantitative",
          "scale": {"domain": [0, 1], "nice": false},
          "axis": {
            "values": [0, 0.2, 0.4, 0.6, 0.8, 1],
            "format": "~g",
            "labelFont": "Open Sans", "labelFontSize": 146, "labelColor": "#6b6b76",
            "labelPadding": 68, "labelFlush": false, "labelOverlap": false, "labelLimit": 1000,
            "tickSize": 53, "tickWidth": 9, "tickColor": "#e6e6e8",
            "domainWidth": 17, "domainColor": "#e6e6e8",
            "grid": true, "gridColor": "#e8e8ea", "gridWidth": 4.7,
            "title": "Successful Grasps",
            "titleFont": "Open Sans", "titleFontSize": 146, "titleFontWeight": "normal", "titleColor": "#6b6b76", "titleLimit": 3000,
            "titleAngle": 270, "titleX": 148, "titleY": 54, "titleAlign": "right", "titleBaseline": "alphabetic"
          }
        },
        "order": {"value": null}
      }
    },
    {
      "transform": [{"filter": "datum.series == 'mean'"}],
      "mark": {"type": "line", "color": "#368fdb", "strokeWidth": 11.5, "strokeJoin": "miter"},
      "encoding": {
        "x": {
          "field": "steps", "type": "quantitative",
          "axis": {
            "orient": "bottom", "values": [2, 4, 6, 8, 10],
            "labels": false, "domain": false, "grid": false,
            "tickSize": -51, "tickWidth": 9, "tickColor": "#e6e6e8", "title": null
          }
        },
        "y": {
          "field": "success", "type": "quantitative",
          "axis": {
            "orient": "left", "values": [0.2, 0.4, 0.6, 0.8, 1],
            "labels": false, "domain": false, "grid": false,
            "tickSize": -52, "tickWidth": 9, "tickColor": "#e6e6e8", "title": null
          }
        }
      }
    },
    {
      "transform": [{"filter": "datum.series == 'mean' && datum.steps == 10"}],
      "mark": {"type": "point", "filled": true, "color": "#368fdb", "opacity": 1, "size": 1590},
      "encoding": {
        "x": {"field": "steps", "type": "quantitative", "axis": null},
        "y": {"field": "success", "type": "quantitative", "axis": null}
      }
    }
  ],
  "resolve": {"axis": {"x": "independent", "y": "independent"}}
}
